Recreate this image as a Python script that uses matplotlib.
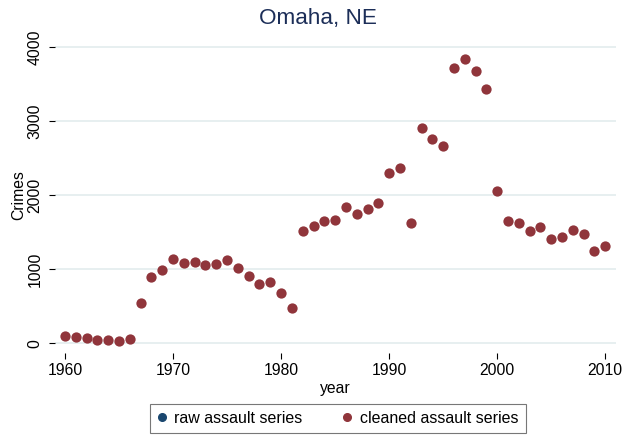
import numpy as np
import matplotlib
matplotlib.use('Agg')
import matplotlib.pyplot as plt
from matplotlib.lines import Line2D

plt.rcParams['font.family'] = ['Liberation Sans', 'DejaVu Sans']

# 1. Data
years = list(range(1960, 2011))

cleaned_assault = [
    91, 81, 68, 37, 37, 33, 54, 548, 887, 982,          # 1960s
    1136, 1085, 1095, 1050, 1064, 1118, 1009, 905, 797, 828,  # 1970s
    678, 471, 1511, 1583, 1650, 1669, 1845, 1750, 1818, 1899,  # 1980s
    2303, 2366, 1629, 2901, 2757, 2663, 3720, 3842, 3684, 3437,  # 1990s
    2061, 1656, 1629, 1516, 1575, 1413, 1435, 1529, 1475, 1246,  # 2000s
    1309,
]
# raw series sits entirely underneath the cleaned one in the picture
raw_assault = list(cleaned_assault)

yticks = [0, 1000, 2000, 3000, 4000]
xticks = [1960, 1970, 1980, 1990, 2000, 2010]

raw_color = '#1a476f'
clean_color = '#90353b'
grid_color = '#e3ecee'

# 2. Plot
fig = plt.figure(figsize=(6.36, 4.37), dpi=100)
ax = fig.add_axes([0.0865, 0.192, 0.882, 0.723])

# raw drawn a touch smaller so no blue rim shows round the cleaned dots
ax.plot(years, raw_assault, 'o', color=raw_color, markersize=6.4, markeredgewidth=0)
ax.plot(years, cleaned_assault, 'o', color=clean_color, markersize=7.4, markeredgewidth=0)

ax.set_xlim(1959.07, 2011.0)
ax.set_ylim(-135, 4135)
ax.set_xticks(xticks)
ax.set_yticks(yticks)
ax.set_yticklabels([str(t) for t in yticks], rotation=90, va='center')

for s in ax.spines.values():
    s.set_visible(False)
ax.grid(axis='y', color=grid_color, linewidth=1.2)
ax.set_axisbelow(True)
ax.tick_params(axis='both', labelsize=11.3, colors='black', length=4, width=0.8)
ax.tick_params(axis='y', pad=5)
ax.tick_params(axis='x', pad=3)

ax.set_xlabel('year', fontsize=11.3, labelpad=2)
ax.set_ylabel('Crimes', fontsize=11.3, labelpad=1)
fig.suptitle('Omaha, NE', fontsize=16.2, color='#1c2e58', y=0.982)

handles = [
    Line2D([], [], marker='o', linestyle='', color=raw_color, markersize=5.5),
    Line2D([], [], marker='o', linestyle='', color=clean_color, markersize=5.5),
]
leg = fig.legend(handles, ['raw assault series', 'cleaned assault series'],
                 loc='center', bbox_to_anchor=(0.531, 0.043), ncol=2,
                 fontsize=11.5, frameon=True, fancybox=False,
                 handlelength=0.6, handletextpad=0.5, columnspacing=2.5,
                 borderpad=0.45)
leg.get_frame().set_edgecolor('#555555')
leg.get_frame().set_linewidth(0.8)

fig.savefig('out.png', dpi=100)
